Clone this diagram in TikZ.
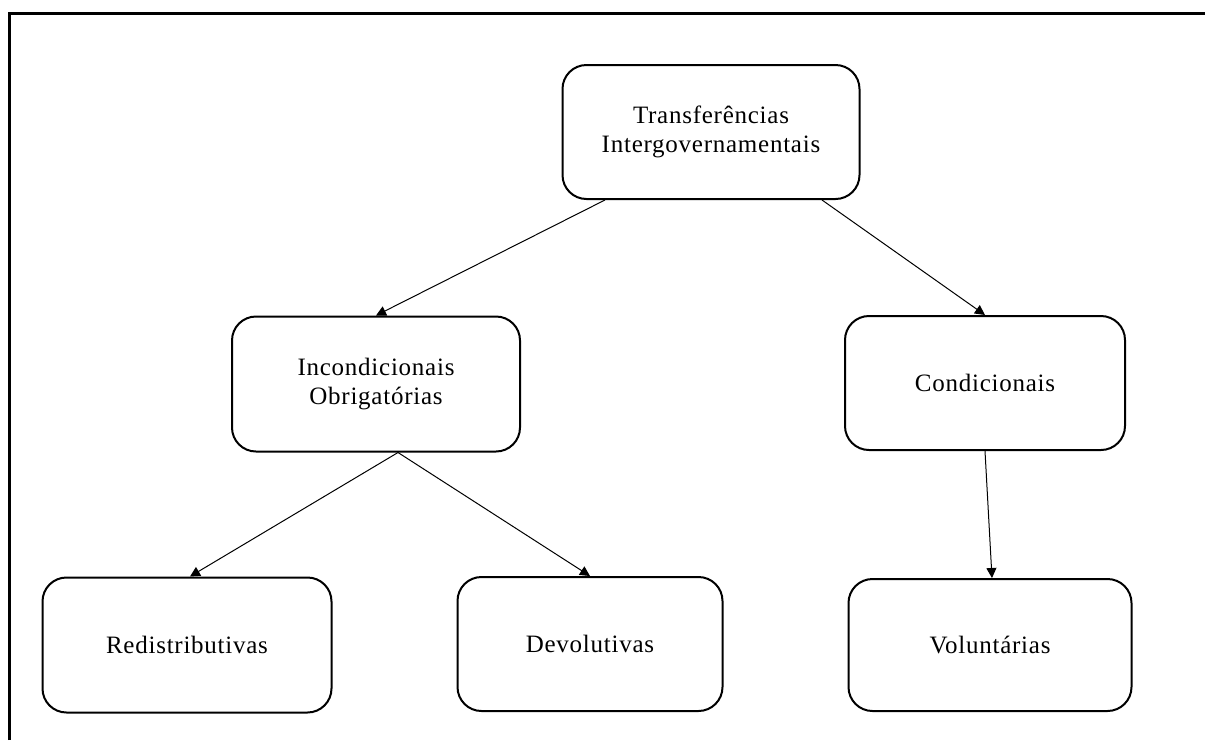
\documentclass[tikz,border=0pt]{standalone}
\usepackage{fontspec}
\setmainfont[LetterSpace=3]{Liberation Serif}
\usetikzlibrary{arrows.meta}

\begin{document}
\begin{tikzpicture}
  [x=0.5pt, y=-0.5pt,
   every node/.style={font=\fontsize{12.5}{14.5}\selectfont},
   box/.style={draw, line width=1pt, rounded corners=12pt, align=center, inner sep=0pt},
   link/.style={line width=0.5pt, -{Triangle[length=5pt, width=5pt]}}]
  \useasboundingbox (0,0) rectangle (1205,740);
  \draw[line width=1.5pt] (9,740) -- (9,13) -- (1205,13);

  \node[box, minimum width=148.5pt, minimum height=67pt] (transf) at (711,132)
    {Transferências\\Intergovernamentais};
  \node[box, minimum width=144pt, minimum height=67.5pt] (incond) at (376,384)
    {Incondicionais\\Obrigatórias};
  \node[box, minimum width=140pt, minimum height=67pt] (cond) at (985,383)
    {Condicionais};
  \node[box, minimum width=144.5pt, minimum height=67.5pt] (redist) at (187,645)
    {Redistributivas};
  \node[box, minimum width=132.5pt, minimum height=67pt] (devol) at (590,644)
    {Devolutivas};
  \node[box, minimum width=141.5pt, minimum height=66pt] (volunt) at (990,645)
    {Voluntárias};

  \draw[link] ([xshift=-53pt]transf.south) -- (incond.north);
  \draw[link] ([xshift=55.5pt]transf.south) -- (cond.north);
  \draw[link] ([xshift=11pt]incond.south) -- ([xshift=1.5pt]redist.north);
  \draw[link] ([xshift=11pt]incond.south) -- (devol.north);
  \draw[link] (cond.south) -- ([xshift=1pt]volunt.north);
\end{tikzpicture}
\end{document}
